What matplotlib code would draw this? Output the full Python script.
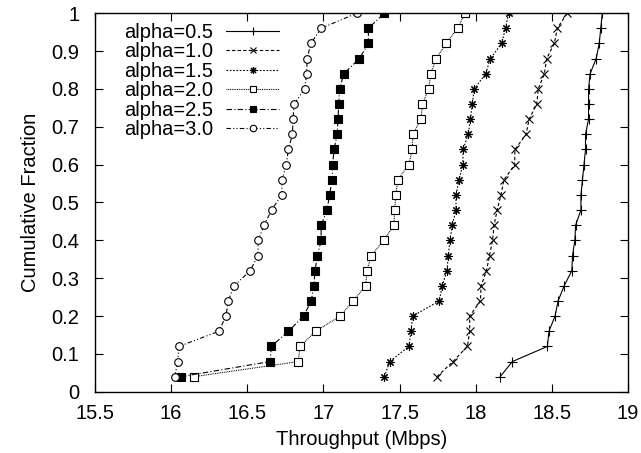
import numpy as np
import matplotlib.pyplot as plt

plt.rcParams['font.family'] = ['Liberation Sans', 'DejaVu Sans']

# cumulative fraction levels shared by every series
frac = [0.04, 0.08, 0.12, 0.16, 0.20, 0.24, 0.28, 0.32, 0.36, 0.40, 0.44, 0.48, 0.52,
        0.56, 0.60, 0.64, 0.68, 0.72, 0.76, 0.80, 0.84, 0.88, 0.92, 0.96, 1.00]

tp_a05 = [18.16, 18.24, 18.47, 18.48, 18.52, 18.54, 18.58, 18.63, 18.635, 18.65, 18.655, 18.69, 18.69,
          18.70, 18.71, 18.72, 18.72, 18.74, 18.74, 18.74, 18.75, 18.79, 18.81, 18.82, 18.83]
tp_a10 = [17.745, 17.85, 17.945, 17.96, 17.96, 18.03, 18.035, 18.07, 18.09, 18.11, 18.12, 18.14, 18.165,
          18.185, 18.255, 18.257, 18.33, 18.35, 18.40, 18.41, 18.45, 18.465, 18.515, 18.535, 18.60]
tp_a15 = [17.40, 17.435, 17.56, 17.575, 17.585, 17.76, 17.78, 17.81, 17.82, 17.83, 17.845, 17.87, 17.87,
          17.89, 17.915, 17.917, 17.95, 17.965, 17.976, 17.99, 18.065, 18.095, 18.17, 18.195, 18.215]
tp_a20 = [16.15, 16.836, 16.845, 16.95, 17.11, 17.195, 17.277, 17.286, 17.314, 17.395, 17.463, 17.467, 17.476,
          17.487, 17.56, 17.583, 17.587, 17.64, 17.65, 17.69, 17.705, 17.74, 17.805, 17.88, 17.93]
tp_a25 = [16.064, 16.65, 16.658, 16.77, 16.87, 16.92, 16.937, 16.945, 16.96, 16.985, 16.985, 17.024, 17.04,
          17.057, 17.06, 17.07, 17.09, 17.096, 17.10, 17.107, 17.133, 17.236, 17.295, 17.295, 17.40]
tp_a30 = [16.024, 16.044, 16.052, 16.314, 16.36, 16.376, 16.413, 16.52, 16.57, 16.572, 16.61, 16.66, 16.725,
          16.73, 16.756, 16.77, 16.797, 16.80, 16.808, 16.876, 16.89, 16.893, 16.917, 16.985, 17.22]

labels = ['alpha=0.5', 'alpha=1.0', 'alpha=1.5', 'alpha=2.0', 'alpha=2.5', 'alpha=3.0']
series = [tp_a05, tp_a10, tp_a15, tp_a20, tp_a25, tp_a30]

xticks = [15.5, 16, 16.5, 17, 17.5, 18, 18.5, 19]
xticklabels = ['15.5', '16', '16.5', '17', '17.5', '18', '18.5', '19']
yticks = [0, 0.1, 0.2, 0.3, 0.4, 0.5, 0.6, 0.7, 0.8, 0.9, 1.0]
yticklabels = ['0', '0.1', '0.2', '0.3', '0.4', '0.5', '0.6', '0.7', '0.8', '0.9', '1']

styles = [
    dict(ls='-', marker='+', ms=7, mfc='black'),
    dict(ls=(0, (3, 2)), marker='x', ms=5.5, mfc='black'),
    dict(ls=(0, (1.5, 1.5)), marker=(8, 2, 0), ms=6, mfc='black'),
    dict(ls=(0, (0.8, 0.8)), marker='s', ms=5.5, mfc='white'),
    dict(ls=(0, (5, 2, 1, 2)), marker='s', ms=5.5, mfc='black'),
    dict(ls=(0, (4, 2, 1, 2, 1, 2)), marker='o', ms=5.5, mfc='white'),
]

fs = 14.5

fig = plt.figure(figsize=(6.41, 4.53), dpi=100)
ax = fig.add_axes([0.148, 0.135, 0.832, 0.836])

for xs, lab, st in zip(series, labels, styles):
    ax.plot(xs, frac, color='black', lw=0.8, mec='black', mew=0.8, label=lab, **st)

ax.set_xlim(15.5, 19)
ax.set_ylim(0, 1)
ax.set_xticks(xticks)
ax.set_xticklabels(xticklabels)
ax.set_yticks(yticks)
ax.set_yticklabels(yticklabels)
ax.tick_params(direction='in', top=True, right=True, length=6, width=0.8, labelsize=fs)
ax.tick_params(axis='x', pad=9)
ax.tick_params(axis='y', pad=11)
for sp in ax.spines.values():
    sp.set_linewidth(1.0)

ax.set_xlabel('Throughput (Mbps)', fontsize=fs, labelpad=5)
ax.set_ylabel('Cumulative Fraction', fontsize=fs, labelpad=8)

leg = ax.legend(loc='upper left', frameon=False, markerfirst=False, fontsize=fs,
                handlelength=2.6, handletextpad=0.65, labelspacing=0.02, markerscale=0.85,
                borderaxespad=0.0, bbox_to_anchor=(0.04, 0.995))
for t in leg.get_texts():
    t.set_ha('right')
leg._legend_box.align = 'right'

fig.savefig('out.png', dpi=100)
